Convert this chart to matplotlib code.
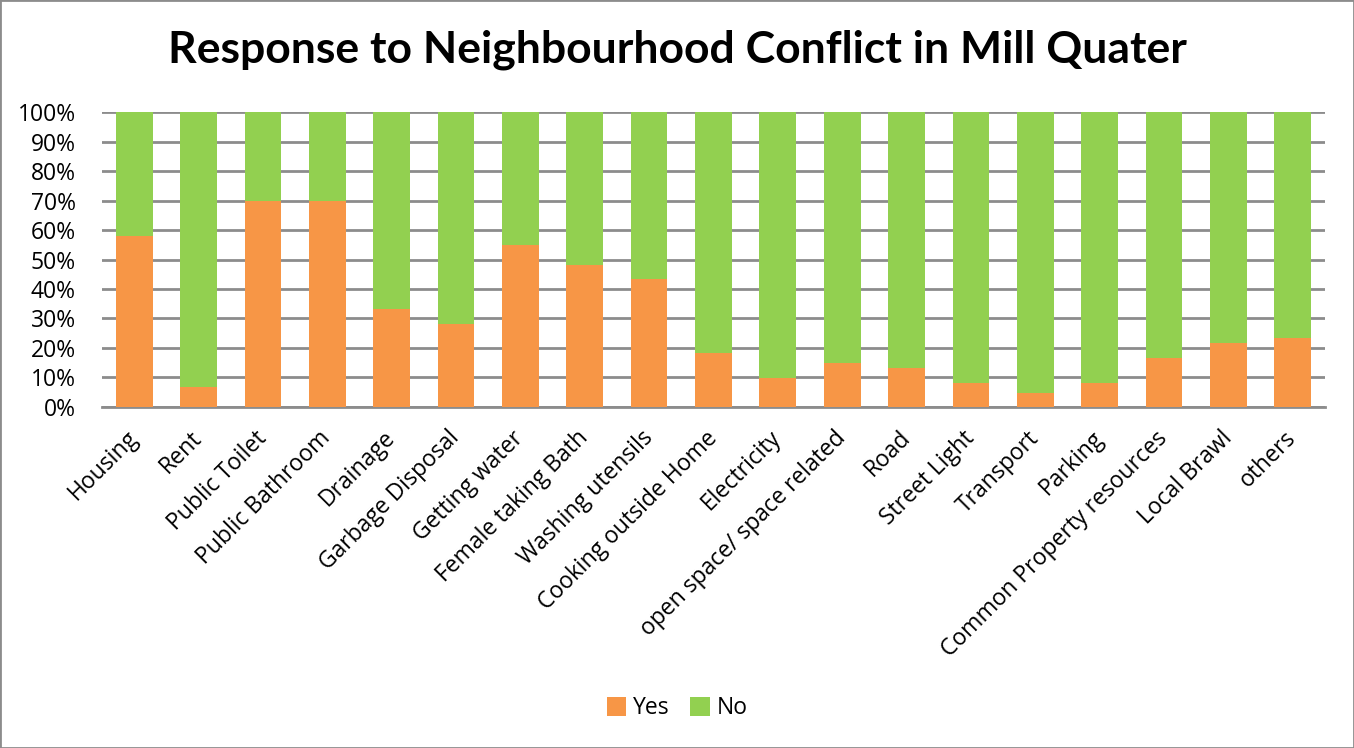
import matplotlib
matplotlib.use("Agg")
import matplotlib.pyplot as plt
from matplotlib.patches import Rectangle
from matplotlib.ticker import PercentFormatter

categories = ["Housing", "Rent", "Public Toilet", "Public Bathroom", "Drainage",
              "Garbage Disposal", "Getting water", "Female taking Bath",
              "Washing utensils", "Cooking outside Home", "Electricity",
              "open space/ space related", "Road", "Street Light", "Transport",
              "Parking", "Common Property resources", "Local Brawl", "others"]
yes = [58.1, 6.7, 70.0, 70.0, 33.2, 28.2, 54.8, 48.2, 43.3, 18.2, 9.8, 14.8,
       13.3, 8.2, 4.7, 8.2, 16.5, 21.6, 23.3]
no = [100 - v for v in yes]

plt.rcParams['font.family'] = ['Open Sans', 'DejaVu Sans']

fig = plt.figure(figsize=(13.54, 7.48), dpi=100)
ax = fig.add_axes([0.0753, 0.456, 0.9033, 0.394])

x = range(len(categories))
ax.bar(x, yes, width=0.571, color="#F79646", label="Yes", zorder=3)
ax.bar(x, no, bottom=yes, width=0.571, color="#92D050", label="No", zorder=3)

ax.set_xlim(-0.5, len(categories) - 0.5)
ax.set_ylim(0, 100)
ax.set_yticks(range(0, 101, 10))
ax.yaxis.set_major_formatter(PercentFormatter(decimals=0))
ax.yaxis.grid(True, color="#8c8c8c", linewidth=2, zorder=0)
ax.set_axisbelow(True)
for s in ["top", "right", "left"]:
    ax.spines[s].set_visible(False)
ax.spines["bottom"].set_color("#8c8c8c")
ax.spines["bottom"].set_linewidth(2)
ax.tick_params(axis="both", length=0, labelsize=16.5, colors="black")
ax.tick_params(axis="y", pad=19)
ax.tick_params(axis="x", pad=20)
ax.set_xticks(list(x))
ax.set_xticklabels(categories, rotation=45, ha="right", va="center",
                   rotation_mode="anchor")

fig.text(0.5, 0.933, "Response to Neighbourhood Conflict in Mill Quater",
         fontsize=32, fontweight="bold", ha="center", va="center",
         family=['Lato', 'DejaVu Sans'])

fig.legend(loc="center", bbox_to_anchor=(0.5, 0.053), ncol=2, frameon=False,
           fontsize=16.5, handlelength=0.85, handleheight=0.85, handletextpad=0.3,
           columnspacing=0.9)

fig.patches.append(Rectangle((0, 0), 1, 1, transform=fig.transFigure, fill=False,
                             edgecolor="#8c8c8c", linewidth=2))

fig.savefig("out.png", dpi=100)
